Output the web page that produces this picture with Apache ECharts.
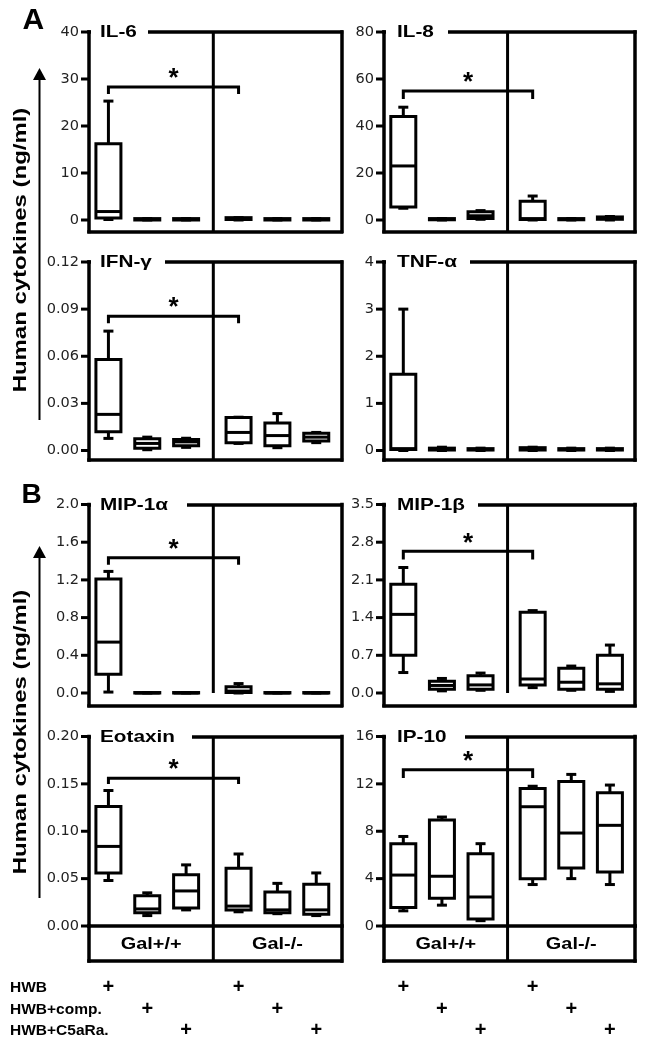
<!DOCTYPE html>
<html><head><meta charset="utf-8">
<script src="https://cdn.jsdelivr.net/npm/echarts@6/dist/echarts.min.js"></script>
<style>html,body{margin:0;padding:0;background:#fff}#c{width:646px;height:1050px}</style>
</head><body><div id="c"></div>
<script>
// ---------- DATA ----------
// x position of each group on the panel value axis (6 groups: 3 treatments x 2 genotypes)
const groupX = [0.5, 1.5, 2.5, 3.85, 4.85, 5.85];
const dividerX = 3.2;
const xMax = 6.5;
const genotypes = ['Gal+/+', 'Gal-/-'];
const treatments = ['HWB', 'HWB+comp.', 'HWB+C5aRa.'];
const treatmentOfGroup = [0, 1, 2, 0, 1, 2];
const sigPair = [0, 3];

// box stats per group: [min, Q1, median, Q3, max]
const il6 = [[0.1,0.4,1.8,16.2,25.3],[0,0,0.1,0.3,0.3],[0,0,0.1,0.3,0.3],[0,0.1,0.3,0.5,0.5],[0,0,0.1,0.3,0.3],[0,0,0.1,0.3,0.3]];
const il8 = [[5,5.5,23,44,48],[0,0.1,0.3,0.6,0.6],[0.3,0.6,1.8,3.5,4],[0,0.2,0.6,8,10.2],[0,0.1,0.3,0.6,0.6],[0,0.3,0.8,1.3,1.5]];
const ifn = [[0.0077,0.012,0.023,0.058,0.076],[0.0005,0.0015,0.0045,0.0075,0.0085],[0.002,0.003,0.0055,0.007,0.0078],[0.0045,0.005,0.0115,0.021,0.0212],[0.0018,0.003,0.0095,0.0175,0.0235],[0.005,0.006,0.0085,0.011,0.0115]];
const tnf = [[0,0.02,0.04,1.62,3.0],[0,0.01,0.03,0.05,0.07],[0,0.01,0.02,0.04,0.05],[0,0.01,0.03,0.06,0.07],[0,0.01,0.02,0.04,0.05],[0,0.01,0.02,0.04,0.05]];
const mip1a = [[0.01,0.2,0.54,1.21,1.29],[0,0,0,0.005,0.005],[0,0,0,0.005,0.005],[0,0.005,0.02,0.065,0.1],[0,0,0,0.005,0.005],[0,0,0,0.005,0.005]];
const mip1b = [[0.38,0.70,1.46,2.02,2.33],[0.04,0.07,0.14,0.22,0.27],[0.05,0.07,0.15,0.32,0.37],[0.1,0.15,0.26,1.5,1.53],[0.05,0.07,0.2,0.46,0.5],[0.03,0.07,0.17,0.7,0.89]];
const eotaxin = [[0.048,0.056,0.084,0.126,0.143],[0.011,0.014,0.018,0.032,0.035],[0.017,0.019,0.037,0.054,0.0645],[0.015,0.017,0.021,0.061,0.076],[0.013,0.014,0.017,0.036,0.045],[0.011,0.0125,0.017,0.044,0.056]];
const ip10 = [[1.28,1.56,4.3,6.95,7.56],[1.76,2.35,4.2,8.95,9.2],[0.45,0.6,2.45,6.1,6.95],[3.5,4.0,10.07,11.6,11.8],[4.0,4.9,7.85,12.2,12.8],[3.5,4.55,8.5,11.25,11.9]];

// tick labels
const il6Ticks = [0,10,20,30,40];
const il8Ticks = [0,20,40,60,80];
const ifnTicks = [0,0.03,0.06,0.09,0.12];
const tnfTicks = [0,1,2,3,4];
const mip1aTicks = [0,0.4,0.8,1.2,1.6,2.0];
const mip1bTicks = [0,0.7,1.4,2.1,2.8,3.5];
const eotaxinTicks = [0,0.05,0.10,0.15,0.20];
const ip10Ticks = [0,4,8,12,16];

// significance bracket [line level, end level]
const il6Sig = [28.3, 26.8];
const il8Sig = [54.9, 51.5];
const ifnSig = [0.0855, 0.081];
const mip1aSig = [1.436, 1.36];
const mip1bSig = [2.63, 2.48];
const eotaxinSig = [0.156, 0.150];
const ip10Sig = [13.2, 12.5];

// ---------- LAYOUT ----------
const colLeft = [89, 384];
const colWidth = [252.5, 251];
const rows = [
  {top: 32, zero: 220, bottom: 231.5},
  {top: 262, zero: 450.5, bottom: 460},
  {top: 504.5, zero: 693, bottom: 705.5},
  {top: 736.5, zero: 926, bottom: 926}
];
const stripH = 35;
const tableTop = 977, tableH = 64.5;
const LW = 3.5;
const TICK_LEN = 8;
const FONT = '"Liberation Sans", Arial, sans-serif';

const panels = [
  {name:'IL-6', data:il6, ticks:il6Ticks, dec:0, sig:il6Sig, row:0, col:0, lineStart:148, divToZero:false},
  {name:'IL-8', data:il8, ticks:il8Ticks, dec:0, sig:il8Sig, row:0, col:1, lineStart:448, divToZero:false},
  {name:'IFN-γ', data:ifn, ticks:ifnTicks, dec:2, sig:ifnSig, row:1, col:0, lineStart:165, divToZero:false},
  {name:'TNF-α', data:tnf, ticks:tnfTicks, dec:0, sig:null, row:1, col:1, lineStart:470, divToZero:false},
  {name:'MIP-1α', data:mip1a, ticks:mip1aTicks, dec:1, sig:mip1aSig, row:2, col:0, lineStart:187, divToZero:true},
  {name:'MIP-1β', data:mip1b, ticks:mip1bTicks, dec:1, sig:mip1bSig, row:2, col:1, lineStart:478, divToZero:true},
  {name:'Eotaxin', data:eotaxin, ticks:eotaxinTicks, dec:2, sig:eotaxinSig, row:3, col:0, lineStart:192, divToZero:false},
  {name:'IP-10', data:ip10, ticks:ip10Ticks, dec:0, sig:ip10Sig, row:3, col:1, lineStart:465, divToZero:false}
];

const BOX_W = 25, CAP_W = 10;
const BLACK = '#000';

function renderBox(params, api) {
  const x = api.value(0);
  const p = [1,2,3,4,5].map(i => api.coord([x, api.value(i)]));
  const cx = p[0][0];
  const lo = p[0][1], q1 = p[1][1], med = p[2][1], q3 = p[3][1], hi = p[4][1];
  const hw = BOX_W / 2, cw = CAP_W / 2;
  const st = {stroke: BLACK, lineWidth: 3, fill: null};
  return {type: 'group', children: [
    {type:'line', shape:{x1:cx, y1:q3, x2:cx, y2:hi}, style:st},
    {type:'line', shape:{x1:cx-cw, y1:hi, x2:cx+cw, y2:hi}, style:st},
    {type:'line', shape:{x1:cx, y1:q1, x2:cx, y2:lo}, style:st},
    {type:'line', shape:{x1:cx-cw, y1:lo, x2:cx+cw, y2:lo}, style:st},
    {type:'rect', shape:{x:cx-hw, y:q3, width:2*hw, height:q1-q3}, style:{stroke:BLACK, lineWidth:3, fill:'#fff'}},
    {type:'line', shape:{x1:cx-hw, y1:med, x2:cx+hw, y2:med}, style:st}
  ]};
}

function renderSig(params, api) {
  const a = api.coord([api.value(0), api.value(2)]);
  const b = api.coord([api.value(1), api.value(2)]);
  const ae = api.coord([api.value(0), api.value(3)]);
  const be = api.coord([api.value(1), api.value(3)]);
  return {type:'group', children:[
    {type:'polyline', shape:{points:[ae, a, b, be]}, style:{stroke:BLACK, lineWidth:3, fill:null}},
    {type:'text', x:(a[0]+b[0])/2, y:a[1]-8, style:{text:'*', font:'bold 26px ' + FONT, textAlign:'center', textVerticalAlign:'middle', align:'center', verticalAlign:'middle', fill:BLACK}}
  ]};
}

// tick marks drawn at the axis scale positions of each tick value
function renderTick(params, api) {
  const c = api.coord([0, api.value(1)]);
  return {type:'line', shape:{x1:c[0] - TICK_LEN, y1:c[1], x2:c[0], y2:c[1]}, style:{stroke:BLACK, lineWidth:3}};
}

const option = {animation:false, backgroundColor:'#fff', grid:[], xAxis:[], yAxis:[], series:[], graphic:{elements:[]}};
const G = option.graphic.elements;

function frameLine() { return {show:true, onZero:false, lineStyle:{color:BLACK, width:LW, cap:'square'}}; }
function plainX(gi, pos, show) {
  return {gridIndex:gi, type:'value', min:0, max:xMax, position:pos, show: show !== false,
    axisLine:frameLine(), axisTick:{show:false}, axisLabel:{show:false}, splitLine:{show:false}};
}
const hideAll = {axisLine:{show:false}, axisTick:{show:false}, axisLabel:{show:false}, splitLine:{show:false}};

panels.forEach(p => {
  const L = colLeft[p.col], W = colWidth[p.col], R = rows[p.row];
  const M = p.ticks[p.ticks.length - 1];
  const min = R.bottom > R.zero ? -M * (R.bottom - R.zero) / (R.zero - R.top) : 0;
  // tick grid: spans from max down to zero, carries ticks and labels
  let gi = option.grid.length;
  option.grid.push({left:L, top:R.top, width:W, height:R.zero - R.top});
  const txi = option.xAxis.length;
  option.xAxis.push(Object.assign({gridIndex:gi, type:'value', min:0, max:xMax, show:false}, hideAll));
  const tyi = option.yAxis.length;
  option.yAxis.push({gridIndex:gi, type:'value', min:p.ticks[0], max:M, interval:p.ticks[1] - p.ticks[0], position:'left',
    axisLine:{show:false, onZero:false},
    axisTick:{show:false},
    axisLabel:{formatter:v => v.toFixed(p.dec), margin:10, fontFamily:'"DejaVu Sans", sans-serif', fontSize:14.5, color:'#222'},
    splitLine:{show:false}});
  option.series.push({type:'custom', xAxisIndex:txi, yAxisIndex:tyi, renderItem:renderTick, silent:true, clip:false, z:1,
    data:p.ticks.map(v => [0, v])});
  // frame grid
  gi = option.grid.length;
  option.grid.push({left:L, top:R.top, width:W, height:R.bottom - R.top});
  const xi = option.xAxis.length;
  option.xAxis.push(plainX(gi, 'bottom'), plainX(gi, 'top'));
  const yi = option.yAxis.length;
  option.yAxis.push(
    {gridIndex:gi, type:'value', min:min, max:M, position:'left',
     axisLine:frameLine(), axisTick:{show:false}, axisLabel:{show:false}, splitLine:{show:false}},
    {gridIndex:gi, type:'value', min:min, max:M, position:'right',
     axisLine:frameLine(), axisTick:{show:false}, axisLabel:{show:false}, splitLine:{show:false}}
  );
  option.series.push({
    type:'custom', xAxisIndex:xi, yAxisIndex:yi, renderItem:renderBox, silent:true, z:3,
    data: groupX.map((x, i) => [x].concat(p.data[i]))
  });
  option.series.push({
    type:'line', xAxisIndex:xi, yAxisIndex:yi, silent:true, showSymbol:false, symbol:'none', z:2,
    lineStyle:{color:BLACK, width:3},
    data:[[dividerX, M], [dividerX, p.divToZero ? 0 : min]]
  });
  if (p.sig) {
    option.series.push({
      type:'custom', xAxisIndex:xi, yAxisIndex:yi, renderItem:renderSig, silent:true, z:4,
      data:[[groupX[sigPair[0]], groupX[sigPair[1]], p.sig[0], p.sig[1]]]
    });
  }
  // mask top frame line behind title, and the title
  G.push({type:'rect', z:50, shape:{x:L + 2, y:R.top - 4, width:p.lineStart - L - 2, height:8}, style:{fill:'#fff'}});
  G.push({type:'text', z:51, x:L + 11 + p.col * 2, y:R.top + 0.5, scaleX:1.22,
    style:{text:p.name, font:'bold 17px ' + FONT, textAlign:'left', textVerticalAlign:'middle', align:'left', verticalAlign:'middle', fill:BLACK}});
});

// genotype strips and treatment tables under the bottom row
[0, 1].forEach(col => {
  const L = colLeft[col], W = colWidth[col];
  // strip
  let gi = option.grid.length;
  option.grid.push({left:L, top:rows[3].bottom, width:W, height:stripH});
  let xi = option.xAxis.length;
  option.xAxis.push(plainX(gi, 'bottom'));
  let yi = option.yAxis.length;
  option.yAxis.push(
    {gridIndex:gi, type:'value', min:0, max:1, position:'left', axisLine:frameLine(), axisTick:{show:false}, axisLabel:{show:false}, splitLine:{show:false}},
    {gridIndex:gi, type:'value', min:0, max:1, position:'right', axisLine:frameLine(), axisTick:{show:false}, axisLabel:{show:false}, splitLine:{show:false}}
  );
  option.series.push({type:'line', xAxisIndex:xi, yAxisIndex:yi, silent:true, symbol:'none', lineStyle:{color:BLACK, width:3},
    data:[[dividerX, 1], [dividerX, 0]]});
  option.series.push({type:'custom', xAxisIndex:xi, yAxisIndex:yi, silent:true,
    data: genotypes.map((g, i) => [i === 0 ? dividerX / 2 : (dividerX + xMax) / 2, 0.5]),
    renderItem: (params, api) => {
      const c = api.coord([api.value(0), api.value(1)]);
      return {type:'text', x:c[0], y:c[1] + 1, scaleX:1.17,
        style:{text:genotypes[params.dataIndex], font:'bold 17px ' + FONT, textAlign:'center', textVerticalAlign:'middle', align:'center', verticalAlign:'middle', fill:BLACK}};
    }});
  // treatment table
  gi = option.grid.length;
  option.grid.push({left:L, top:tableTop, width:W, height:tableH});
  xi = option.xAxis.length;
  option.xAxis.push(plainX(gi, 'bottom', false));
  yi = option.yAxis.length;
  option.yAxis.push({gridIndex:gi, type:'category', data:treatments, inverse:true, position:'left',
    axisLine:{show:false}, axisTick:{show:false}, splitLine:{show:false},
    axisLabel:{show:col === 0, align:'left', margin:L - 10, fontFamily:FONT, fontWeight:'bold', fontSize:15.5, color:BLACK}});
  option.series.push({type:'custom', xAxisIndex:xi, yAxisIndex:yi, silent:true,
    data: groupX.map((x, i) => [x, treatmentOfGroup[i]]),
    renderItem: (params, api) => {
      const c = api.coord([api.value(0), api.value(1)]);
      return {type:'text', x:c[0], y:c[1],
        style:{text:'+', font:'bold 20px ' + FONT, textAlign:'center', textVerticalAlign:'middle', align:'center', verticalAlign:'middle', fill:BLACK}};
    }});
});

// panel letters, y-axis titles, arrows
function txt(o) { return Object.assign({type:'text', z:100}, o); }
G.push(txt({x:22.5, y:21, style:{text:'A', font:'bold 30px ' + FONT, textAlign:'left', textVerticalAlign:'middle', align:'left', verticalAlign:'middle', fill:BLACK}}));
G.push(txt({x:21.5, y:495, style:{text:'B', font:'bold 28px ' + FONT, textAlign:'left', textVerticalAlign:'middle', align:'left', verticalAlign:'middle', fill:BLACK}}));
[{cy:250, head:68, end:420}, {cy:732, head:546, end:898}].forEach(a => {
  G.push(txt({x:21, y:a.cy, rotation:Math.PI / 2, scaleX:1.33,
    style:{text:'Human cytokines (ng/ml)', font:'bold 18px ' + FONT, textAlign:'center', textVerticalAlign:'middle', align:'center', verticalAlign:'middle', fill:BLACK}}));
  G.push({type:'line', z:100, shape:{x1:39.5, y1:a.head + 8, x2:39.5, y2:a.end}, style:{stroke:BLACK, lineWidth:2}});
  G.push({type:'polygon', z:100, shape:{points:[[39.5, a.head], [33, a.head + 12], [46, a.head + 12]]}, style:{fill:BLACK}});
});

const chart = echarts.init(document.getElementById('c'), null, {renderer:'canvas'});
chart.setOption(option);
</script>
</body></html>
